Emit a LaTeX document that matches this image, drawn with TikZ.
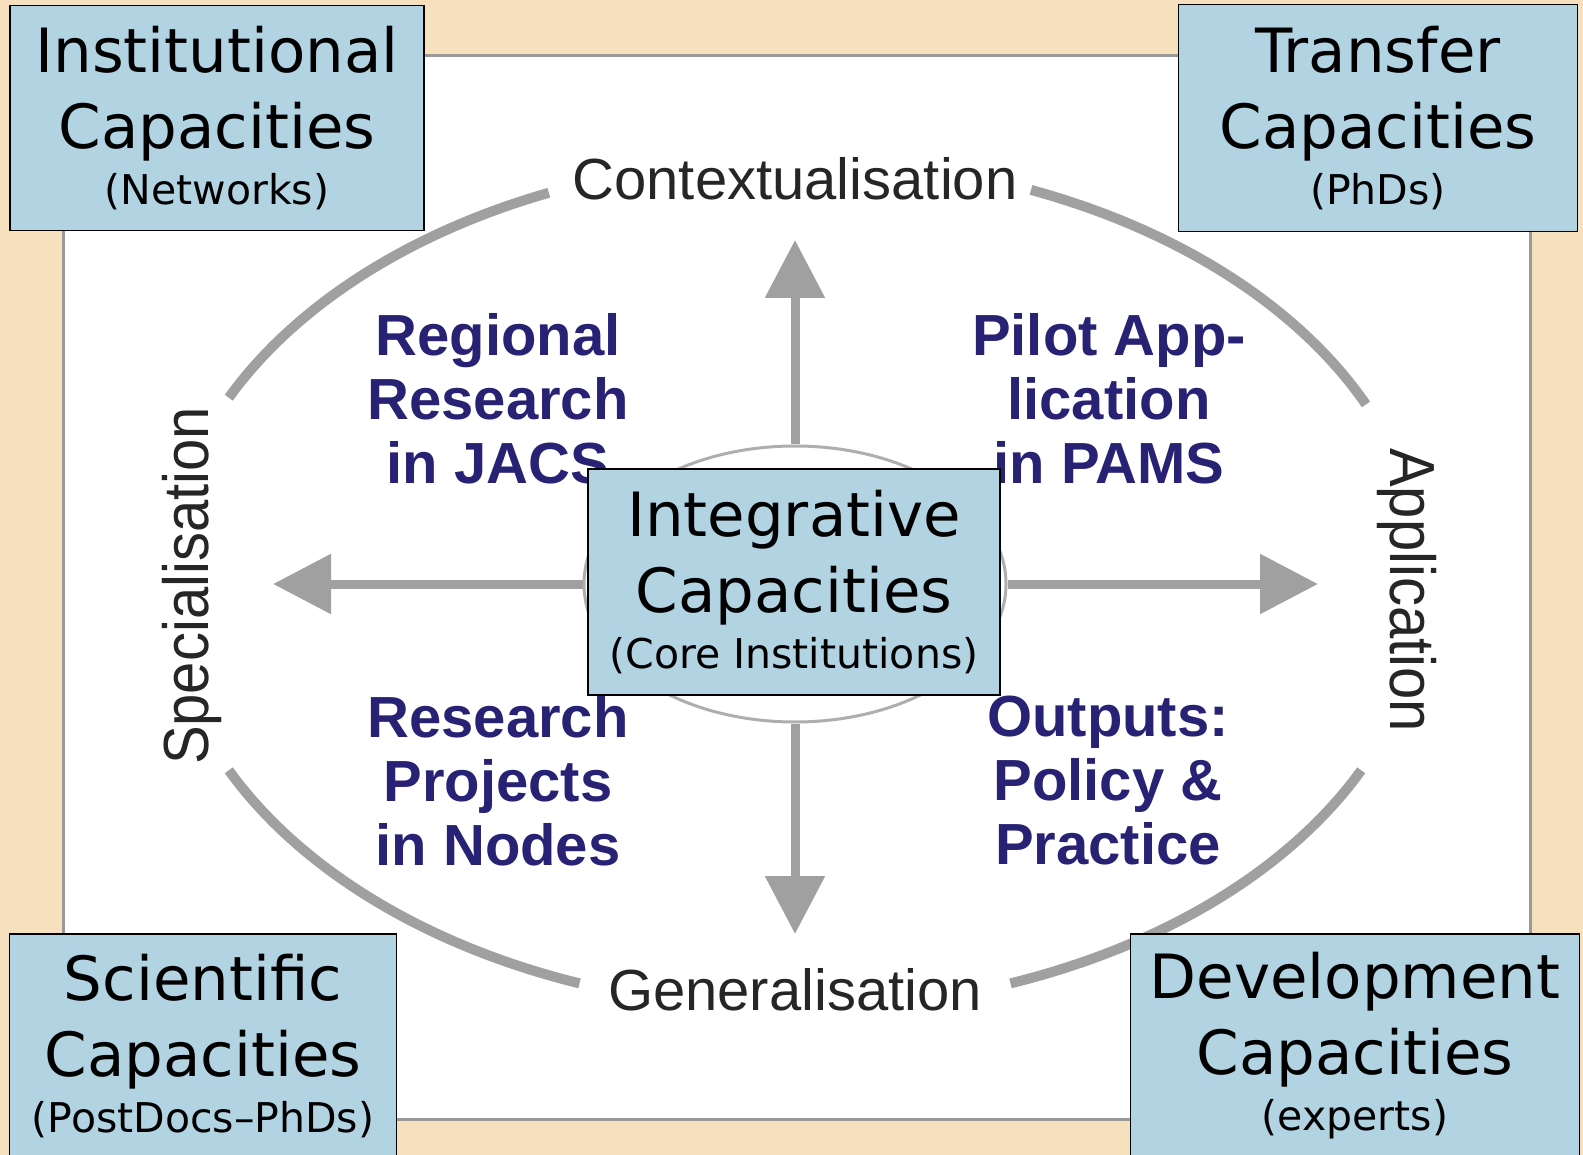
\documentclass[tikz,border=0pt]{standalone}
\usepackage{fontspec}
\setmainfont{DejaVu Sans}
\newfontfamily\arialfont{Liberation Sans}
\usetikzlibrary{shapes.geometric,arrows.meta}

\definecolor{sand}{RGB}{247,224,190}
\definecolor{capblue}{RGB}{178,211,226}
\definecolor{ringgray}{RGB}{160,160,160}
\definecolor{navy}{RGB}{40,34,116}

\begin{document}
\begin{tikzpicture}[	x=1pt,y=-1pt,%
					capbox/.style={draw,line width=1.5pt,fill=capblue,align=center,inner sep=0pt,font=\fontsize{61}{76}\selectfont},%
					axislabel/.style={inner sep=0pt,anchor=base,text=black!85,font=\arialfont\fontsize{58}{64}\selectfont},%
					quadrant/.style={inner sep=0pt,align=center,text=navy,font=\arialfont\bfseries\fontsize{58}{64}\selectfont},%
					ring/.style={draw=ringgray,line width=10pt},%
					axis/.style={draw=ringgray,line width=9pt,-{Triangle[length=58pt,width=58pt]}}]

\fill [sand] (0,0) rectangle (1583,1155);
\useasboundingbox (0,0) rectangle (1583,1155);
\draw [gray!80,line width=3pt,fill=white] (63,56) rectangle (1530,1119);

% outer ring, open where the labels sit
\foreach \s/\e in {-154/-113,-68/-25,26/70,110/154}
	\draw [ring] ([shift={(\s:630 and 425)}]795,584) arc [start angle=\s,end angle=\e,x radius=630,y radius=425];

\node [axislabel] (ctx) at (795,200) {Contextualisation};
\node [axislabel] (gen) at (795,1010) {Generalisation};
\node [axislabel,rotate=90,yscale=1.1] (spec) at (208,586) {Specialisation};
\node [axislabel,rotate=-90,yscale=1.1] (appl) at (1390,590) {Application};

\foreach \a/\b/\c/\d in {jacs/498/399/{Regional\\Research\\in JACS},%
	pams/1109/399/{Pilot App-\\lication\\in PAMS},%
	nodes/498/781/{Research\\Projects\\in Nodes},%
	outputs/1108/781/{Outputs:\\Policy \&\\Practice}}
	\node [quadrant] (\a) at (\b,\c) {\d};

\node [draw=ringgray!85,line width=3pt,ellipse,minimum width=422pt,minimum height=276pt,inner sep=0pt] (core) at (795,584) {};

\coordinate (ctxtip) at (795,240);
\coordinate (gentip) at (795,934);
\coordinate (spectip) at (273,584);
\coordinate (appltip) at (1318,584);
\foreach \tip/\side in {ctxtip/north,gentip/south,spectip/west,appltip/east}
	\draw [axis] (core.\side) -- (\tip);

% capacity boxes, the core one last so it sits on top
\foreach \a/\b/\c/\d/\e/\f in {inst/217/118/414/225/{Institutional\\Capacities\\[-20pt]{\fontsize{41}{46}\selectfont (Networks)}},%
	trans/1378/118/399/227/{Transfer\\Capacities\\[-20pt]{\fontsize{41}{46}\selectfont (PhDs)}},%
	sci/203/1046/387/224/{Scientific\\Capacities\\[-20pt]{\fontsize{41}{46}\selectfont (PostDocs–PhDs)}},%
	dev/1355/1046/449/224/{Development\\Capacities\\[-20pt]{\fontsize{41}{46}\selectfont (experts)}},%
	integr/794/582/412/226/{Integrative\\Capacities\\[-20pt]{\fontsize{41}{46}\selectfont (Core Institutions)}}}
	\node [capbox,minimum width=\d pt,minimum height=\e pt] (\a) at (\b,\c) {\f};

\end{tikzpicture}
\end{document}
